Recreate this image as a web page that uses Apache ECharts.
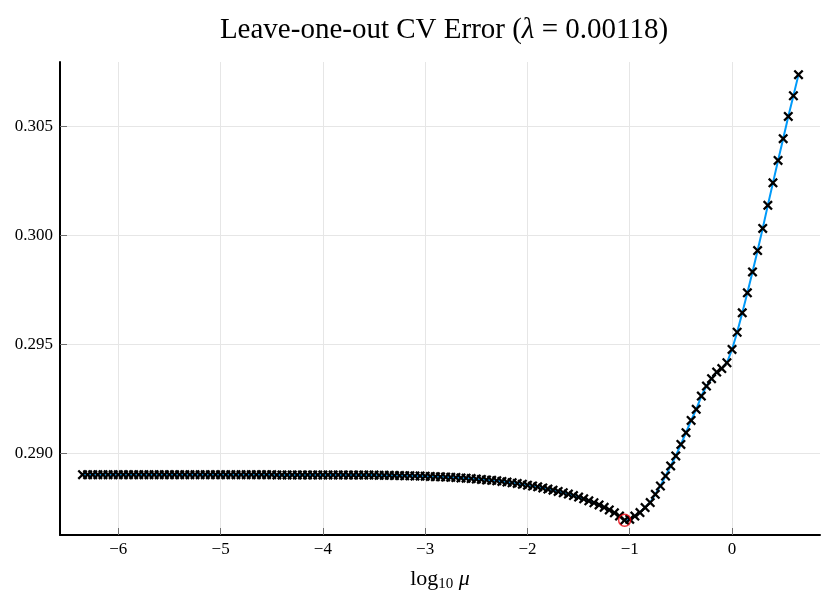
<!DOCTYPE html>
<html>
<head>
<meta charset="utf-8">
<title>Leave-one-out CV Error</title>
<script src="https://cdn.jsdelivr.net/npm/echarts@6.0.0/dist/echarts.min.js"></script>
<style>
  html, body { margin: 0; padding: 0; background: #fff; }
  #cvchart { width: 830px; height: 603px; }
</style>
</head>
<body>
<div id="cvchart"></div>
<script>
// log10(mu) grid (step 0.05)
const logMu = [
  -6.35, -6.30, -6.25, -6.20, -6.15, -6.10, -6.05, -6.00, -5.95, -5.90,
  -5.85, -5.80, -5.75, -5.70, -5.65, -5.60, -5.55, -5.50, -5.45, -5.40,
  -5.35, -5.30, -5.25, -5.20, -5.15, -5.10, -5.05, -5.00, -4.95, -4.90,
  -4.85, -4.80, -4.75, -4.70, -4.65, -4.60, -4.55, -4.50, -4.45, -4.40,
  -4.35, -4.30, -4.25, -4.20, -4.15, -4.10, -4.05, -4.00, -3.95, -3.90,
  -3.85, -3.80, -3.75, -3.70, -3.65, -3.60, -3.55, -3.50, -3.45, -3.40,
  -3.35, -3.30, -3.25, -3.20, -3.15, -3.10, -3.05, -3.00, -2.95, -2.90,
  -2.85, -2.80, -2.75, -2.70, -2.65, -2.60, -2.55, -2.50, -2.45, -2.40,
  -2.35, -2.30, -2.25, -2.20, -2.15, -2.10, -2.05, -2.00, -1.95, -1.90,
  -1.85, -1.80, -1.75, -1.70, -1.65, -1.60, -1.55, -1.50, -1.45, -1.40,
  -1.35, -1.30, -1.25, -1.20, -1.15, -1.10, -1.05, -1.00, -0.95, -0.90,
  -0.85, -0.80, -0.75, -0.70, -0.65, -0.60, -0.55, -0.50, -0.45, -0.40,
  -0.35, -0.30, -0.25, -0.20, -0.15, -0.10, -0.05, 0.00, 0.05, 0.10,
  0.15, 0.20, 0.25, 0.30, 0.35, 0.40, 0.45, 0.50, 0.55, 0.60,
  0.65
];

// LOO CV error at each grid point
const cvError = [
  0.28902, 0.28902, 0.28902, 0.28902, 0.28902, 0.28902, 0.28902, 0.28902, 0.28902, 0.28902,
  0.28902, 0.28902, 0.28902, 0.28902, 0.28902, 0.28902, 0.28902, 0.28902, 0.28902, 0.28902,
  0.28902, 0.28902, 0.28902, 0.28902, 0.28902, 0.28902, 0.28902, 0.28902, 0.28902, 0.28902,
  0.28902, 0.28902, 0.28902, 0.28902, 0.28902, 0.28902, 0.28902, 0.28902, 0.28901, 0.28901,
  0.28901, 0.28901, 0.28901, 0.28901, 0.28901, 0.28901, 0.28901, 0.28901, 0.28901, 0.28901,
  0.28901, 0.28901, 0.28900, 0.28900, 0.28900, 0.28900, 0.28900, 0.28900, 0.28899, 0.28899,
  0.28899, 0.28898, 0.28898, 0.28897, 0.28897, 0.28896, 0.28896, 0.28895, 0.28894, 0.28893,
  0.28892, 0.28891, 0.28890, 0.28889, 0.28887, 0.28886, 0.28884, 0.28882, 0.28880, 0.28878,
  0.28876, 0.28874, 0.28871, 0.28868, 0.28865, 0.28862, 0.28858, 0.28854, 0.28850, 0.28846,
  0.28841, 0.28836, 0.28831, 0.28825, 0.28819, 0.28813, 0.28806, 0.28799, 0.28791, 0.28782,
  0.28773, 0.28763, 0.28752, 0.28740, 0.28727, 0.28712, 0.28693, 0.28697, 0.28712, 0.28728,
  0.28751, 0.28774, 0.28812, 0.28850, 0.28896, 0.28942, 0.28988, 0.29041, 0.29095, 0.29151,
  0.29202, 0.29263, 0.29309, 0.29343, 0.29373, 0.29389, 0.29416, 0.29477, 0.29556, 0.29645,
  0.29737, 0.29833, 0.29931, 0.30033, 0.30139, 0.30242, 0.30345, 0.30445, 0.30547, 0.30642,
  0.30739
];

const xTicks = [-6, -5, -4, -3, -2, -1, 0];
const yTicks = [0.290, 0.295, 0.300, 0.305];

const serif = '"Liberation Serif", "DejaVu Serif", serif';

// 'x' marker as a filled polygon
const crossPath = 'path://M0,1.6L1.6,0L5,3.4L8.4,0L10,1.6L6.6,5L10,8.4L8.4,10L5,6.6L1.6,10L0,8.4L3.4,5Z';

const points = logMu.map((x, i) => [x, cvError[i]]);

// the minimum gets the red circle
let best = 0;
cvError.forEach((v, i) => { if (v < cvError[best]) best = i; });

const chart = echarts.init(document.getElementById('cvchart'));

chart.setOption({
  backgroundColor: '#ffffff',
  animation: false,
  title: {
    text: '{a|Leave-one-out CV Error (}{b|λ}{a| = 0.00118)}',
    left: 439,
    textAlign: 'center',
    top: 11,
    textStyle: {
      rich: {
        a: { fontFamily: serif, fontSize: 29, fontWeight: 'normal', color: '#000' },
        b: { fontFamily: serif, fontSize: 29, fontWeight: 'normal', fontStyle: 'italic', color: '#000' }
      }
    }
  },
  grid: {
    left: 60,
    right: 10,
    top: 62,
    bottom: 68,
    containLabel: false
  },
  xAxis: {
    type: 'value',
    min: -6.57,
    max: 0.86,
    name: '{a|log}{s|10}{b| μ}',
    nameLocation: 'middle',
    nameGap: 31,
    nameTextStyle: {
      rich: {
        a: { fontFamily: serif, fontSize: 22, color: '#000', lineHeight: 26, verticalAlign: 'middle' },
        s: { fontFamily: serif, fontSize: 15, color: '#000', lineHeight: 13, verticalAlign: 'bottom' },
        b: { fontFamily: serif, fontSize: 22, fontStyle: 'italic', color: '#000', lineHeight: 26, verticalAlign: 'middle' }
      }
    },
    axisLine: { onZero: false, lineStyle: { color: '#000', width: 2 } },
    axisTick: {
      inside: true,
      length: 7,
      customValues: xTicks,
      lineStyle: { color: '#6e6e6e', width: 1 }
    },
    axisLabel: {
      customValues: xTicks,
      margin: 6,
      fontFamily: serif,
      fontSize: 17,
      color: '#000',
      formatter: v => (v < 0 ? '\u2212' + Math.abs(v) : String(v))
    },
    splitLine: { show: true, lineStyle: { color: '#e6e6e6', width: 1 } }
  },
  yAxis: {
    type: 'value',
    min: 0.28625,
    max: 0.30797,
    axisLine: { show: true, onZero: false, lineStyle: { color: '#000', width: 2 } },
    axisTick: {
      show: true,
      inside: true,
      length: 7,
      customValues: yTicks,
      lineStyle: { color: '#6e6e6e', width: 1 }
    },
    axisLabel: {
      customValues: yTicks,
      margin: 7,
      fontFamily: serif,
      fontSize: 17,
      color: '#000',
      formatter: v => v.toFixed(3)
    },
    splitLine: { show: true, lineStyle: { color: '#e6e6e6', width: 1 } }
  },
  series: [
    {
      name: 'cv',
      type: 'line',
      data: points,
      showSymbol: true,
      showAllSymbol: true,
      symbol: crossPath,
      symbolSize: 10,
      lineStyle: { color: '#009af9', width: 2 },
      itemStyle: { color: '#000' },
      z: 2
    },
    {
      name: 'best',
      type: 'scatter',
      data: [points[best]],
      symbol: 'circle',
      symbolSize: 12,
      itemStyle: { color: 'rgba(0,0,0,0)', borderColor: '#e8000b', borderWidth: 1.5 },
      z: 3
    }
  ]
});
</script>
</body>
</html>
